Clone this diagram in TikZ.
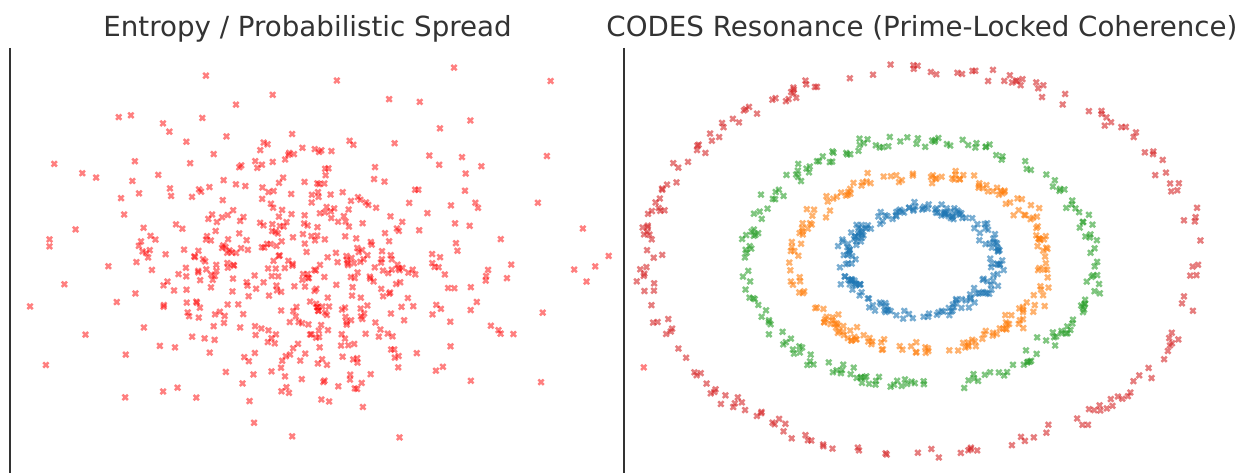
\documentclass[tikz,border=0pt]{standalone}
\usepackage{fontspec}
\setmainfont{DejaVu Sans}
\definecolor{ttl}{HTML}{333333}
\definecolor{cblue}{HTML}{1F77B4}
\definecolor{corange}{HTML}{FF7F0E}
\definecolor{cgreen}{HTML}{2CA02C}
\definecolor{cred}{HTML}{D62728}
\newcommand\mkX[2]{\fill[shift={(#1,#2)}] (-3.5,-1.8)--(-1.8,-3.5)--(0,-1.8)--(1.8,-3.5)--(3.5,-1.8)--(1.8,0)--(3.5,1.8)--(1.8,3.5)--(0,1.8)--(-1.8,3.5)--(-3.5,1.8)--(-1.8,0)--cycle;}
\begin{document}
\begin{tikzpicture}[x=1pt,y=-1pt,
  titletext/.style={anchor=base,text=ttl,font=\fontsize{27.7}{32}\selectfont,inner sep=0pt},
  axisline/.style={draw=ttl,line width=1.3pt}]
\useasboundingbox[fill=white] (0,0) rectangle (1249,473);
\node[titletext] (t1) at (307.5,37) {Entropy / Probabilistic Spread};
\node[titletext] (t2) at (922,37) {CODES Resonance (Prime-Locked Coherence)};
\draw[axisline] (10,48) -- (10,473);
\draw[axisline] (624,48) -- (624,473);
\pgfmathsetseed{11}
\begin{scope}[fill=red,fill opacity=0.5]
\foreach \i in {1,...,500}{
  \pgfmathsetmacro\ua{0.0005+0.9995*rnd}
  \pgfmathsetmacro\ub{360*rnd}
  \pgfmathsetmacro\rr{sqrt(-2*ln(\ua))}
  \pgfmathsetmacro\px{307+95*\rr*cos(\ub)}
  \pgfmathsetmacro\py{262+70*\rr*sin(\ub)}
  \mkX{\px}{\py}
}
\end{scope}
\foreach \r/\col in {3/cblue,5/corange,7/cgreen,11/cred}{
  \begin{scope}[fill=\col,fill opacity=0.6]
  \foreach \i in {1,...,200}{
    \pgfmathsetmacro\t{360*rnd}
    \pgfmathsetmacro\ua{0.0005+0.9995*rnd}
    \pgfmathsetmacro\ub{360*rnd}
    \pgfmathsetmacro\rr{0.2*sqrt(-2*ln(\ua))}
    \pgfmathsetmacro\px{921+25*(\r*cos(\t)+\rr*cos(\ub))}
    \pgfmathsetmacro\py{262-17.5*(\r*sin(\t)+\rr*sin(\ub))}
    \mkX{\px}{\py}
  }
  \end{scope}
}
\end{tikzpicture}
\end{document}
